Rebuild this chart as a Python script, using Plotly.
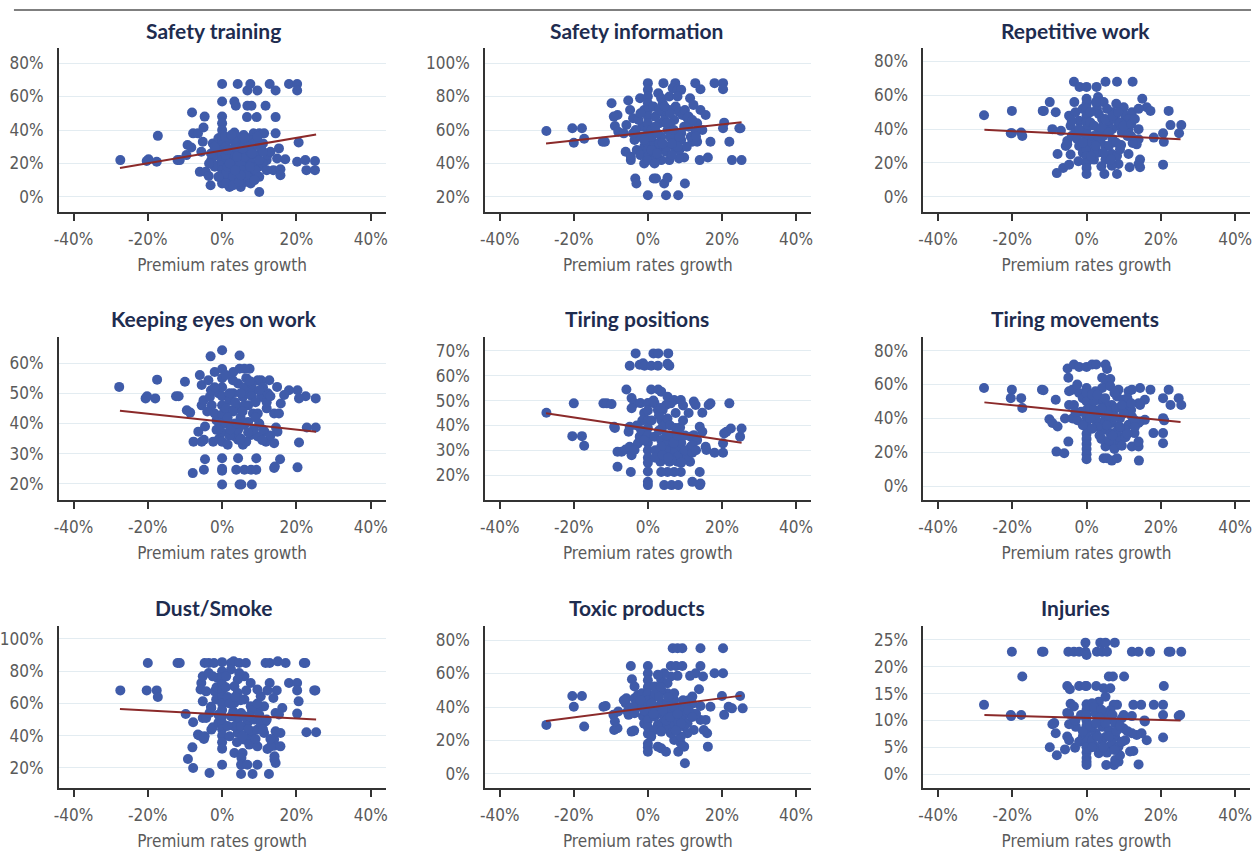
import plotly.graph_objects as go
from plotly.subplots import make_subplots

# ---------------- data (values in %) ----------------
panel_titles = ["Safety training", "Safety information", "Repetitive work",
                "Keeping eyes on work", "Tiring positions", "Tiring movements",
                "Dust/Smoke", "Toxic products", "Injuries"]
x_title = "Premium rates growth"
x_tickvals = [-40, -20, 0, 20, 40]
x_ticktext = ["-40%", "-20%", "0%", "20%", "40%"]

st_x = [-27.4, -20.3, -19.8, -17.6, -17.3, -12, -11.4, -9.6, -9.3, -8.3,
        -8.1, -7.8, -6.5, -6, -5.6, -5, -4.7, -5.2, -4.4, -3.6,
        -3.1, -2.5, -2.9, -1.5, -1, -0.5, -3, -2, -1,
        0, 0, 0, 0, 0, 0, 0, 0, 0, 0, 0, 0, 0, 0, 0, 0,
        1, 1.5, 2, 2, 2.4, 3, 3.3, 3.3, 3.7, 4.2,
        4, 4.5, 5, 5, 5.5, 5.8, 6, 6.2, 6.5, 6.7,
        6.8, 6.8, 7, 7.6, 7.3, 7.7, 7.9, 8, 8.3, 8.5,
        9, 9.3, 9.5, 9.8, 10, 10, 10.5, 11.3, 11.7, 12,
        12.2, 12.8, 13, 13.8, 14.4, 14.4, 14.4, 14.8, 15.3, 15.7,
        15.7, 17, 18, 20.2, 20.2, 20.6, 20.2, 22.4, 22.7, 25,
        25, 1, 2, 3, 4, 5, 6, 7, 8, 9,
        11, 12, 1, 3, 4, 8, 10, 2, 5, 6,
        0.8, 1.5, 2.5, 3.5, 4.5, 5.5, 6.5, 7.5, 8.7, 11,
        -3.5, -2, -1, 1, 2, 3, 4, 5, 6, 7,
        8, 9, 10, 11, 1.5, 3.5, 5.5, 7.5, 9.5, 2.5]
st_y = [22, 21.5, 22.5, 21, 36.5, 22, 22, 25, 31, 29.5,
        50.5, 38, 38, 15, 27, 41.5, 48, 33, 15, 12.5,
        7, 32, 22, 25, 28, 20, 26, 18, 35,
        67.5, 57, 48, 44, 40, 37, 34, 31, 28, 25, 22, 19, 16, 13, 10, 8,
        30, 22, 10, 6, 17, 26, 38.5, 57, 54.5, 67.5,
        20, 14, 6, 32, 24, 37, 18, 9, 28, 47.7,
        54.5, 63.6, 35, 67.5, 22, 8, 54.5, 14, 30, 38,
        25, 47.7, 63.6, 18, 38, 3, 29, 38, 54.5, 22,
        25, 67.5, 27, 16, 63.6, 47.7, 38, 23, 29, 16.5,
        13, 22.5, 67.5, 67.5, 63.6, 32.5, 21, 22, 16, 21.5,
        16, 14, 34, 12, 28, 20, 24, 12, 20, 16,
        20, 16, 8, 7, 36, 34, 12, 28, 10, 31,
        36, 18, 24, 30, 9, 16, 13, 27, 10, 32,
        20, 30, 12, 25, 20, 34, 24, 13, 35, 30,
        26, 33, 22, 27, 28, 16, 29, 18, 36, 37]

si_x = [-27.4, -20.4, -20, -17.8, -17.2, -12.2, -11.6, -9.8, -8.9, -8.2,
        -9.2, -8, -5.3, -6, -4.6, -4.6, -4.8, -4, -5.8, -3.4,
        -3.1, -2.1, -3.6, -1, -2, -1.5, -0.5, -3, -2.5, -1,
        -3.3, -2, -6.5, -1,
        0, 0, 0, 0, 0, 0, 0, 0, 0, 0, 0, 0, 0, 0,
        1.6, 2.2, 4.4, 5.3, 4.9, 8.2, 10, 4.2, 7.4, 6.7,
        8, 9, 2.8, 3.6, 5.8, 8, 11.4, 12.8, 14.2, 18,
        20.3, 20.3, 12.3, 14.2, 15.6, 20.6, 20.3, 24.7, 25, 22,
        16.9, 22.7, 25.3, 14, 16.2, 14.7, 13.3, 12, 9.8, 8.4,
        5.8, 3.6, 2.2, 7.5, 5.8, 8.4, 9.3, 4.4, 7.1, 3.1,
        5.3, 3.6, 1.8, 6.7, 8, 9.8, 11.6, 12.9, 13.3, 10.7,
        2.7, 4.9, 7.1, 1.8, 1, 2, 4, 6, 8.5, 11,
        1, 3, 5, 6.5, 2.5, 4.5, 9, 10.5, 1.5, 6,
        -4, -2, -1, 1, 2, 3, 4, 5, 6, 7,
        8, 9, 10, 11, 12, 2.5, 4.5, 6.5, 8.5, 13]
si_y = [59.4, 61, 52.4, 61, 54.8, 53, 53, 76, 62.4, 69,
        68, 59, 77.6, 47, 42, 44, 72, 67, 63, 31,
        28, 79, 54, 50, 56, 62, 46, 48, 66, 72,
        60, 45, 58, 40,
        88, 84, 80, 76, 72, 68, 64, 60, 56, 52, 48, 44, 42, 21,
        31, 31, 28, 31.4, 21, 21, 28, 88, 88, 85,
        84, 84, 82, 79, 80, 80, 79, 88, 84.4, 88,
        88, 84.4, 75, 72, 69, 64.4, 61, 61, 61, 53,
        53, 42, 42, 42, 43.6, 60, 53, 53, 43.6, 43,
        42, 42, 44, 74, 72, 71, 69, 70, 66, 64,
        60, 56, 52, 54, 58, 62, 56, 59, 64, 67,
        48, 47, 50, 40, 60, 68, 76, 64, 48, 62,
        56, 52, 50, 45, 58, 66, 54, 50, 74, 56,
        58, 70, 54, 48, 62, 72, 52, 64, 70, 60,
        50, 58, 72, 68, 66, 46, 74, 52, 56, 56]

rw_x = [-27.6, -20.1, -20.4, -20.1, -17.6, -17.3, -11.8, -11.5, -9.9, -9.2,
        -8.3, -7.8, -8, -6.3, -4.7, -5.2, -5.6, -5.2, -4.3, -2.2,
        -3.4, -1.9, -3.3, -4.7, -6.9, -3, -2, -1.5, -4.3, -3,
        -2, -1, -4, -1, -2.5,
        0, 0, 0, 0, 0, 0, 0, 0, 0, 0, 0, 0, 0, 0, 0,
        2.7, 5.1, 8.2, 12.4, 3.1, 4.6, 15, 16.2, 17.2, 22.1,
        22.6, 25.5, 24.9, 20.6, 20.8, 18.1, 20.6, 14, 13.5, 12.4,
        14.4, 14.4, 14, 11.3, 11.6, 9.3, 8.2, 4.8, 8.6, 6.8,
        5.1, 6.8, 8.2, 2.4, 3.7, 5.1, 1.5, 1.9, 2.8, 3.3,
        4.2, 6, 6.9, 7.7, 10, 10.4, 12.2, 14, 11.3, 8.6,
        6.9, 5.1, 3.3, 9.5, 11.3, 14, 2, 4, 1, 7,
        9, 6, 3, 5.5, 8, 2.5, 12, 1.2, 7.5, 4.5,
        -4, -2, -1, 1, 2, 3, 4, 5, 6, 7,
        8, 9, 10, 11, 12, 13, 2.5, 4.5, 6.5, 8.5]
rw_y = [48.2, 50.8, 37.6, 37.6, 38, 36, 50.8, 50.8, 56, 40,
        50, 25.3, 14, 17, 19, 33, 30, 31, 25, 21,
        68, 65, 56, 48, 39, 50, 45, 38, 42, 38,
        30, 26, 36, 52, 34,
        65, 58, 55, 52, 48, 44, 40, 37, 34, 31, 28, 24, 20, 17, 13.5,
        65, 68, 68, 68, 59, 56, 58, 53, 50.8, 50.8,
        42.4, 42.4, 37.6, 37.6, 32.5, 35, 19, 34, 31, 31.8,
        22, 17.5, 19.4, 25.3, 17.5, 30.6, 13.5, 13.5, 19.4, 18.4,
        22, 25.3, 24.3, 28, 33, 30, 32, 36, 52, 49,
        46, 44, 50, 48, 53, 48, 50, 52, 46, 42,
        40, 39, 40, 38, 40, 40, 22, 18, 44, 34,
        28, 30, 26, 52, 55, 56, 36, 24, 46, 36,
        45, 40, 32, 50, 42, 36, 41, 46, 38, 48,
        32, 44, 42, 36, 43, 46, 30, 26, 22, 50]

ke_x = [-27.7, -20.6, -20.2, -17.5, -18, -12.4, -11.7, -10, -9.5, -8.6,
        -7.9, -7.7, -6.4, -6, -5.5, -3.7, -3.1, -4.6, -4.9, -5.5,
        -5.5, -5, -4.6, -4.9, -2, -2, -2.8, -3.3, -2.4, -1.5,
        -1, -1.5, -3, -0.8,
        0, 0, 0, 0, 0, 0, 0, 0, 0, 0, 0, 0, 0, 0,
        4.7, 4.7, 5.2, 8, 4.3, 9.2, 3.8, 6, 7.8, 9.2,
        14, 14.2, 15.6, 20.3, 20.7, 22.8, 25.2, 25.2, 22.5, 20.3,
        20.7, 18, 16.7, 15.8, 14.8, 12.7, 10.5, 9.6, 4.7, 7.4,
        14, 15.3, 14.5, 14.9, 14, 11.8, 11.4, 8.3, 9.6, 7.8,
        9.6, 4.3, 5.6, 6.5, 3.4, 4.3, 3.4, 6, 2.5, 4.3,
        2, 5.6, 6.9, 8.3, 10.5, 12.3, 4.3, 6, 2.9, 6,
        1, 2, 3, 5, 7, 8.5, 10, 11, 1.5, 13,
        6.5, 3, 1, 8, 12, 2.2, 5, 7, 9, 10.8,
        -4, -2, -1, 1, 2, 3, 4, 5, 6, 7,
        8, 9, 10, 11, 12, 13, 1.5, 3.5, 5.5, 7.5]
ke_y = [52.1, 48.3, 49, 54.5, 48.3, 49, 49, 53.8, 44.4, 43.6,
        23.6, 34, 37.3, 56, 52.7, 54.3, 62.2, 39, 34.6, 34,
        46, 47.7, 28.2, 24.7, 57, 43.3, 46, 48.8, 34, 37.9,
        50, 41, 51, 35,
        64.2, 58, 55, 52, 49, 46, 43, 40, 37, 34, 28.5, 25, 24.4, 19.8,
        62.5, 19.8, 19.8, 19.8, 28.5, 28.5, 24.7, 24.7, 24.7, 24.7,
        25.3, 25.8, 28.2, 25.5, 33.7, 38.7, 38.7, 48.3, 49, 51,
        48.3, 51, 49.4, 46.6, 52.1, 54.3, 54.3, 54.3, 58.1, 58.1,
        43.3, 43.3, 38.7, 37.3, 33.5, 34, 37.3, 43.3, 43.3, 36.2,
        35.7, 34.6, 33, 34, 35.7, 37.9, 40, 39.5, 44.4, 45.5,
        47.7, 48.8, 50, 51, 48.8, 50, 53.2, 52, 54.3, 58.1,
        40, 36, 50, 42, 46, 38, 40, 52, 33, 36,
        55, 57, 45, 49, 45, 38, 35, 40.5, 47, 34.5,
        44, 52, 38, 56, 50, 44, 40, 50, 46, 37,
        53, 42, 51, 38, 47, 49, 42, 47, 44, 54]

tp_x = [-27.4, -20, -20.4, -17.8, -17.2, -12, -11.1, -9.8, -9.1, -8.9,
        -8.2, -7.1, -6, -8.2, -5.8, -4.9, -3.3, -4.6, -4.4, -4.9,
        -5.2, -4.9, -4.4, -3.6, -4.4, -2.2, -1.3, -0.9, -2.2, -1.8,
        -2.7, -3.6, -1, -2, -1.5,
        0, 0, 0, 0, 0, 0, 0, 0, 0, 0, 0, 0,
        1.5, 2.8, 5.5, 0.9, 2.7, 5.8, 5.3, 0.9, 2.8, 3.6,
        4.4, 6.4, 8.2, 14, 14.2, 12, 14, 8.9, 7.1, 5.3,
        3.6, 3.4, 5.8, 8, 11.4, 14.7, 16.9, 16.4, 22, 18,
        20.3, 20.3, 20.6, 21.2, 22.4, 24.9, 25.3, 14, 14.7, 15.6,
        15.8, 12.4, 12.9, 11.6, 12.4, 8.7, 5.3, 7.1, 8.9, 6.2,
        4.9, 4, 3.6, 4.9, 4, 5.3, 1.8, 3.6, 5.3, 6.7,
        8, 9.8, 11.6, 13.3, 7.1, 4.9, 3.6, 10.7, 8, 1.8,
        2.7, 6, 9, 10, 12, 6.5, 2, 7.5, 9.5, 3,
        -3, -1, 1, 2, 3, 4, 5, 6, 7, 8,
        9, 10, 11, 12, 13, 1.5, 3.5, 5.5, 7.5, 9.5]
tp_y = [45.1, 48.9, 35.7, 35.7, 31.8, 48.9, 48.9, 48.6, 39.5, 39,
        29.4, 29.4, 30.3, 23.4, 54.5, 64, 69, 21.3, 28, 31.4,
        37.5, 39.5, 51, 48.9, 46.9, 64.4, 65, 64, 35.5, 38.1,
        32.8, 30.1, 45, 49, 42,
        49, 46, 42, 39, 36, 33, 30, 27, 25, 21.5, 17.3, 16,
        69, 69, 69, 64, 64, 64, 64.8, 54.5, 54.5, 53.6,
        16, 16, 16, 16, 16.6, 17.3, 21.3, 21.3, 21.3, 21.3,
        21.3, 25.4, 25.4, 25.4, 25.4, 45.1, 48.9, 48.2, 48.9, 29,
        29, 32.8, 36.8, 37.5, 38.8, 35.5, 38.8, 39.5, 37.5, 31.4,
        30.1, 49.6, 48.2, 35.5, 36.1, 39.2, 51.6, 50.2, 50.2, 48.9,
        48.2, 46.2, 42.2, 41.5, 39.5, 42.8, 35.5, 34.1, 32.8, 31.4,
        30.1, 28.7, 31.4, 34.1, 28.7, 30.1, 31.4, 27.4, 27.4, 48.9,
        46.2, 36, 33, 30, 29, 26, 30, 45, 48, 38,
        40, 34, 42, 27, 44, 28, 36, 40, 33, 36,
        25, 36, 45, 32, 30, 50, 47, 27, 39, 42]

tm_x = [-27.6, -20.1, -20.4, -17.6, -17.3, -12, -11.6, -10, -9.2, -7.8,
        -8.3, -8.1, -6, -4.9, -4.9, -5.1, -3.4, -2, -4.7, -3.8,
        -2, -4.7, -3.4, -5.8, -3.8, -2.5, -1, -1.5, -2.5,
        0, 0, 0, 0, 0, 0, 0, 0, 0, 0, 0, 0, 0, 0,
        1.5, 2.6, 5.1, 5.5, 4.2, 6.4, 5.1, 4.6, 5.5, 6.8,
        8.2, 14.1, 5.1, 6, 7.7, 9.1, 12.2, 14, 14, 12.9,
        18, 20.6, 20.6, 20.6, 20.9, 20.6, 22.1, 22.6, 24.8, 25.5,
        17.2, 14.4, 12.2, 11.3, 15.7, 14.4, 14, 10.1, 14.4, 15.7,
        14, 12.2, 11.3, 10.4, 8.6, 8.2, 10, 6.8, 5.1, 3.3,
        2.4, 4.2, 6.4, 3.3, 5.1, 6.8, 8.6, 4.6, 6.4, 8.6,
        3.7, 2.4, 1, 2, 7, 9, 10.5, 7.5, 4, 12,
        1.5, 3, 6, 8, 9.5, 11, 13, 7.5, 5.5, 2.2,
        -3, -1, 1, 2, 3, 4, 5, 6, 7, 8,
        9, 10, 11, 12, 13, 1.5, 3.5, 5.5, 7.5, 9.5]
tm_y = [58, 57, 52, 52, 46.2, 57, 56.6, 39.6, 37.3, 35.3,
        51, 20.5, 19.5, 26.4, 64, 69.4, 71.8, 70.4, 56, 57,
        55, 48, 48, 40, 40, 39, 52, 44, 60,
        70.4, 58, 55, 50, 45, 41, 38, 35, 31, 28, 25, 22, 19, 16,
        71.8, 71.8, 71.8, 69.2, 64, 63.3, 62.5, 16.6, 16.6, 15.2,
        16.6, 15.2, 23.5, 24.5, 25.4, 26.4, 23.5, 23.5, 26.4, 31.4,
        31.4, 31.4, 25.4, 40.2, 38.9, 52, 57, 48, 52, 48,
        57, 58, 57, 56, 51, 48, 49, 46.2, 38.3, 39.2,
        37.3, 41.2, 36.3, 33.3, 57, 53, 51, 48, 49, 51,
        56, 58, 59, 43.2, 40.2, 37.3, 35.3, 33.3, 31.4, 29.4,
        37.3, 39.2, 46, 50, 44, 40, 29, 22, 28, 45,
        54, 35, 27, 32, 24, 52, 39, 55, 45, 42,
        44, 36, 40, 45, 54, 46, 52, 42, 30, 46,
        35, 43, 31, 49, 35, 34, 30, 36, 41, 48]

ds_x = [-27.4, -20, -20.3, -17.6, -17.3, -12, -11.4, -9.8, -7.8, -9.2,
        -7.8, -8, -6.5, -6, -4.9, -4.7, -5.6, -5.2, -5.8, -5.2,
        -5.2, -4.3, -3.4, -2.9, -2.5, -4.7, -3.6, -2.2, -4.3, -2,
        -3.6, -1.2, -2.5, -3.4, -2.9, -1.6, -1, -1.5,
        0, 0, 0, 0, 0, 0, 0, 0, 0, 0, 0, 0, 0, 0, 0,
        2.4, 3.1, 4.6, 6.4, 3.3, 5.5, 5.2, 5.1, 8.2, 12.6,
        5.1, 6.8, 9.5, 14.1, 14.4, 14.1, 14.1, 15.7, 14, 15.7,
        14.4, 12.2, 13.1, 11.7, 12.8, 15, 17.1, 22, 22.4, 18,
        20.2, 12.8, 20.2, 14.7, 12.2, 13.8, 20.6, 20.2, 16.2, 25.1,
        24.8, 22.7, 25.3, 14.4, 15.3, 11.7, 11.3, 10.4, 9.5, 7.7,
        6, 4.6, 4.2, 2.4, 1.1, 3.3, 4.2, 6, 3.3, 7.7,
        9.5, 5.1, 4.2, 6.8, 8.6, 9.5, 7.7, 6, 4.2, 3.3,
        7.3, 9.5, 11.3, 10.4, 2.4, 2, 5.1, 8.2, 1.5, 6.5,
        -3, -1, 1, 2, 3, 4, 5, 6, 7, 8,
        9, 10, 11, 12, 13, 1.5, 3.5, 5.5, 7.5, 9.5]
ds_y = [68.1, 85.1, 68.1, 68.1, 64, 85.1, 85.1, 53.5, 48.3, 25.6,
        20, 32.8, 40.7, 40, 38, 39.6, 72.7, 76.8, 68.6, 61.3,
        51, 51, 16.9, 43.8, 45.2, 85.1, 85.1, 85.1, 67.5, 67.5,
        78.9, 75.8, 76.8, 54.1, 57.2, 62.4, 48, 70,
        85.6, 80, 76, 72, 68, 64, 60, 56, 52, 48, 44, 40, 36, 32, 22,
        85.1, 86.1, 85.1, 85.1, 29.3, 29.3, 26.2, 16.3, 16.3, 16.3,
        22, 22, 22, 25.2, 23.1, 27.2, 33.8, 33.4, 37.6, 41.7,
        42.7, 31.8, 33.4, 85.1, 85.1, 86.1, 85.1, 85.1, 85.1, 72.7,
        72.7, 72.7, 68.1, 68.1, 68.1, 63.4, 61.3, 53.7, 57.2, 68.1,
        68.1, 42.1, 42.1, 54.1, 53.1, 48.9, 58.2, 64.4, 68.6, 72.7,
        76.8, 78.9, 74.8, 81, 76.8, 70.6, 66.5, 62.4, 60.3, 58.2,
        56.2, 54.1, 50, 47.9, 50, 43.8, 39.6, 37.6, 41.7, 45.8,
        34.5, 33.4, 41.7, 47.9, 52, 39.6, 45.8, 42.7, 64, 68,
        58, 53, 70, 60, 55, 36, 62, 52, 44, 56,
        38, 53, 44, 50, 38, 46, 64, 40, 52, 60]

tx_x = [-27.4, -20.4, -20, -17.8, -17.2, -12, -11.4, -9.3, -8, -9.1,
        -8.2, -8.9, -4.6, -4.3, -3.6, -4.4, -3.7, -5.8, -6, -5.5,
        -5.2, -3.6, -3.1, -3.6, -2.7, -1.8, -1.3, -1.6, -6.5, -1,
        0, 0, 0, 0, 0, 0, 0, 0, 0, 0, 0, 0, 0, 0,
        2.7, 3.6, 4.9, 8.2, 10, 9.8, 8.9, 7.1, 16.2, 16,
        15.1, 14.2, 15.6, 12.4, 6.7, 8, 9.3, 14.2, 20.3, 6.2,
        7.6, 9.3, 14.2, 8, 6.2, 11.4, 12.9, 14.9, 18, 20.3,
        13.8, 20, 24.9, 16.9, 14.2, 12, 21.8, 22.7, 20.6, 25.6,
        11.6, 9.8, 8.9, 10.7, 9.8, 8, 7.1, 5.8, 4.9, 3.6,
        2.7, 1.8, 3.1, 5.3, 7.1, 8.9, 7.1, 5.3, 3.6, 1.8,
        3.6, 5.3, 4.4, 2.7, 1.8, 3.6, 5.3, 7.1, 10.7, 8.9,
        6.2, 1.8, 0.9, 3.6, 12, 11, 2, 4.5, 6.5, 13,
        -4, -2, -1, 1, 2, 3, 4, 5, 6, 7,
        8, 9, 10, 11, 12, 1.5, 3.5, 5.5, 7.5, 9.5]
tx_y = [29.3, 46.6, 40.2, 46.6, 28.3, 40.2, 40.6, 35.3, 37.3, 26.3,
        27.3, 31.3, 64.5, 56.6, 52.2, 25.3, 25.9, 45.2, 42.2, 37.3,
        35.3, 45.2, 42.2, 36.3, 47.2, 40.2, 34.3, 48.2, 44, 30,
        64.5, 60, 56, 52, 48, 44, 40, 36, 32, 28, 24, 18, 16, 13.3,
        16.3, 15.3, 13.3, 13.3, 6.4, 16.3, 18.3, 20.3, 16.3, 24.3,
        26.3, 32.3, 32.3, 26.3, 75.1, 75.1, 75.1, 75.1, 75.1, 64.5,
        64.5, 64.5, 64.5, 58.6, 58.2, 58.6, 60.2, 58.2, 60.2, 60.2,
        50.6, 46.6, 46.6, 40.2, 40.6, 46.2, 40.2, 39.2, 35.3, 39.2,
        36.3, 35.3, 32.3, 30.3, 28.3, 27.3, 31.3, 29.3, 27.3, 30.3,
        29.3, 34.3, 36.3, 36.3, 37.3, 40.2, 44.2, 48.2, 50.2, 52.2,
        56.2, 54.2, 60.2, 59.2, 46.2, 42.2, 42.2, 48.2, 24.3, 22.3,
        24.3, 26.3, 22.3, 25.3, 42, 44, 40, 33, 39, 36,
        40, 44, 38, 42, 48, 46, 38, 32, 34, 40,
        36, 30, 42, 38, 34, 36, 52, 46, 26, 44]

inj_x = [-27.6, -20.3, -20.4, -20.1, -17.6, -17.3, -12, -11.6, -9.9, -8,
         -9.2, -8.7, -8.3, -5.8, -3.1, -5.2, -4.7, -5.2, -4.7, -5.2,
         -4.5, -4.9, -3.4, -2, -0.3, -2, -0.3, -0.3, -4.3, -3.4,
         -3.8, -2.9, -4.7, -1.5, -1, -2,
         0, 0, 0, 0, 0, 0, 0, 0, 0, 0, 0, 0, 0, 0, 0,
         5.3, 7.4, 8.6, 7.7, 14, 11.7, 12.6, 12.2, 14, 17.1,
         22.1, 22.6, 25.5, 20.8, 12.6, 14.7, 18.1, 20.6, 20.6, 24.8,
         25.2, 20.6, 15.6, 15.7, 16.2, 14.8, 13.5, 12.2, 12.2, 10.4,
         10, 9.5, 8.2, 7.3, 5.1, 3.3, 1.5, 2.8, 4.2, 5.5,
         3.7, 5.1, 7.6, 2.6, 4.6, 6.4, 6, 7.1, 10.1, 2.4,
         4.2, 6, 7.7, 4.2, 6, 7.7, 2.4, 4.2, 6, 3.3,
         1.5, 2.4, 5.1, 6.9, 8.6, 6.4, 3.3, 1.5, 5.1, 9,
         -3, -1, 1, 2, 3, 4, 5, 6, 7, 8,
         9, 10, 11, 1.5, 3.5, 5.5, 7.5, 9.5, 2.5, 4.5]
inj_y = [12.9, 10.8, 11, 22.8, 11, 18.2, 22.8, 22.8, 5, 3.5,
         9.3, 9.5, 7.6, 4.6, 4.9, 7, 6.3, 11.4, 11.2, 16.4,
         15.8, 22.8, 22.8, 22.8, 22.8, 16.4, 16.4, 24.5, 13.1, 12.6,
         9.5, 8.8, 9.3, 11, 7, 6,
         22.2, 16.4, 13, 12, 11, 10, 9, 8, 7, 6, 5, 4, 3, 2.3, 1.7,
         1.7, 1.7, 2.3, 2.6, 1.8, 4.2, 4.3, 22.8, 22.8, 22.8,
         22.8, 22.8, 22.8, 16.4, 12.9, 12.9, 12.9, 12.9, 11, 10.8,
         11, 6.8, 10, 9.8, 6.3, 7.6, 7.3, 7.6, 10.8, 6.3,
         8.5, 10.4, 12.9, 12.9, 14.4, 13.5, 13.2, 22.8, 22.8, 22.8,
         24.5, 24.5, 24.5, 16.4, 16, 16, 18.2, 18.2, 18.2, 11.3,
         10.7, 10.1, 9.5, 8.8, 8.2, 6.9, 7.6, 6.3, 5.1, 3.9,
         6.3, 5.1, 6.9, 5.7, 5.1, 11.9, 10.1, 8.8, 11.4, 3.5,
         10, 8, 9, 12.5, 7, 12, 9.5, 7, 11, 8,
         9, 11, 8, 5, 10.5, 4, 4.5, 6, 9.5, 5]

# fitted trend lines (end points)
trend_x = [-27.5, 25.3]
st_trend = [17.3, 37.3]
si_trend = [52.0, 64.6]
rw_trend = [39.6, 34.1]
ke_trend = [44.2, 37.3]
tp_trend = [44.9, 33.0]
tm_trend = [49.5, 37.9]
ds_trend = [56.6, 50.0]
tx_trend = [31.7, 46.8]
inj_trend = [11.0, 10.0]

# y axis ticks per panel
st_yticks = [0, 20, 40, 60, 80]
si_yticks = [20, 40, 60, 80, 100]
rw_yticks = [0, 20, 40, 60, 80]
ke_yticks = [20, 30, 40, 50, 60]
tp_yticks = [20, 30, 40, 50, 60, 70]
tm_yticks = [0, 20, 40, 60, 80]
ds_yticks = [20, 40, 60, 80, 100]
tx_yticks = [0, 20, 40, 60, 80]
inj_yticks = [0, 5, 10, 15, 20, 25]

# ---------------- layout / styling ----------------
W, H = 1253, 855
col_px = [(53, 382), (482, 810), (923, 1252)]
row_px = [(48, 212), (337, 500), (626, 788)]
title_cx = [209, 635, 1076]
title_cy = [30, 318, 607]
x_range = [-44, 44]
y_ranges = [[-9, 89], [11, 109], [-9, 88],
            [14.7, 68.6], [10, 75.6], [-8, 88],
            [7.6, 108], [-8.4, 88.4], [-2.6, 27.6]]

DOT = "#3f5ba9"
TREND = "#8b2a2a"
AXIS = "#333333"
GRID = "#e3ecf1"
LABEL = "#5a5a5a"
TITLE = "#1e2c4f"
NARROW = "Liberation Sans Narrow, DejaVu Sans Condensed, Arial Narrow, sans-serif"

panels = [
    (st_x, st_y, st_trend, st_yticks),
    (si_x, si_y, si_trend, si_yticks),
    (rw_x, rw_y, rw_trend, rw_yticks),
    (ke_x, ke_y, ke_trend, ke_yticks),
    (tp_x, tp_y, tp_trend, tp_yticks),
    (tm_x, tm_y, tm_trend, tm_yticks),
    (ds_x, ds_y, ds_trend, ds_yticks),
    (tx_x, tx_y, tx_trend, tx_yticks),
    (inj_x, inj_y, inj_trend, inj_yticks),
]

fig = make_subplots(rows=3, cols=3)

for i, (xs, ys, tr, yt) in enumerate(panels):
    r, c = i // 3 + 1, i % 3 + 1
    fig.add_trace(go.Scatter(x=xs, y=ys, mode="markers",
                             marker=dict(color=DOT, size=10, line=dict(width=0)),
                             hoverinfo="x+y", showlegend=False), row=r, col=c)
    fig.add_trace(go.Scatter(x=trend_x, y=tr, mode="lines",
                             line=dict(color=TREND, width=2),
                             hoverinfo="skip", showlegend=False), row=r, col=c)
    x0, x1 = col_px[c - 1]
    y0, y1 = row_px[r - 1]
    fig.update_xaxes(row=r, col=c, domain=[x0 / W, x1 / W], range=x_range,
                     tickvals=x_tickvals, ticktext=x_ticktext,
                     showgrid=False, zeroline=False, showline=True,
                     linecolor=AXIS, linewidth=1.5, ticks="outside",
                     ticklen=7, tickwidth=1.5, tickcolor=AXIS,
                     ticklabelstandoff=4,
                     tickfont=dict(family=NARROW, size=17, color=LABEL),
                     title=dict(text=x_title, standoff=11,
                                font=dict(family=NARROW, size=17, color=LABEL)))
    fig.update_yaxes(row=r, col=c, domain=[1 - y1 / H, 1 - y0 / H],
                     range=y_ranges[i], tickvals=yt,
                     ticktext=[f"{v}%" for v in yt],
                     showgrid=True, gridcolor=GRID, gridwidth=1,
                     zeroline=False, showline=True, linecolor=AXIS,
                     linewidth=1.5, ticks="", ticklabelstandoff=10,
                     tickfont=dict(family=NARROW, size=17, color=LABEL))
    fig.add_annotation(text=f"<b>{panel_titles[i]}</b>", xref="paper", yref="paper",
                       x=title_cx[c - 1] / W, y=1 - title_cy[r - 1] / H,
                       xanchor="center", yanchor="middle", showarrow=False,
                       font=dict(family="Lato, Open Sans, sans-serif", size=21, color=TITLE))

fig.add_shape(type="line", xref="paper", yref="paper",
              x0=8 / W, x1=1, y0=1 - 10 / H, y1=1 - 10 / H,
              line=dict(color="#555555", width=1.5))

fig.update_layout(width=W, height=H, autosize=False,
                  margin=dict(l=0, r=0, t=0, b=0),
                  paper_bgcolor="white", plot_bgcolor="white",
                  font=dict(family=NARROW, color=LABEL))

fig.write_html("out.html", config={"displayModeBar": False},
               post_script="document.body.style.margin='0';")
